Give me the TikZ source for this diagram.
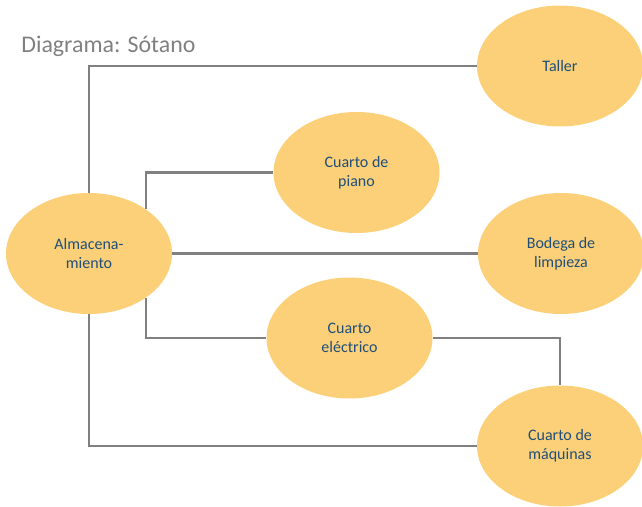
\documentclass[tikz,border=0pt]{standalone}
\usepackage{fontspec}
\setmainfont{Carlito}
\usetikzlibrary{shapes.geometric}
\definecolor{roomfill}{RGB}{252,208,120}
\definecolor{roomtext}{RGB}{31,78,121}
\definecolor{linkgray}{RGB}{128,128,128}
\begin{document}
\begin{tikzpicture}[
  room/.style={ellipse, fill=roomfill, minimum width=3.32cm, minimum height=2.42cm,
    inner sep=0pt, align=center, text=roomtext, font=\fontsize{9.1}{11}\selectfont},
  link/.style={draw=linkgray, line width=1.3pt}]
\useasboundingbox (0, 0) rectangle (12.84, 10.12);
% Title
\node (title) at (0.42, 9.08) [anchor=base west, text=linkgray, inner sep=0pt,
  font=\fontsize{13.6}{16}\selectfont] {Diagrama: Sótano};
% Rooms
\node (alm) at (1.78, 5.05) [room] {Almacena-\\miento};
\node (taller) at (11.2, 8.8) [room] {Taller};
\node (piano) at (7.13, 6.67) [room] {Cuarto de\\piano};
\node (bodega) at (11.22, 5.05) [room] {Bodega de\\limpieza};
\node (elec) at (6.99, 3.36) [room] {Cuarto\\eléctrico};
\node (maq) at (11.2, 1.2) [room] {Cuarto de\\máquinas};
% Connections
\draw[link] (alm.north) |- (taller.west);
\draw[link] (alm.38) |- (piano.west);
\draw[link] (alm.east) -- (bodega.west);
\draw[link] (alm.-38) |- (elec.west);
\draw[link] (elec.east) -| (maq.north);
\draw[link] (alm.south) |- (maq.west);
\end{tikzpicture}
\end{document}
